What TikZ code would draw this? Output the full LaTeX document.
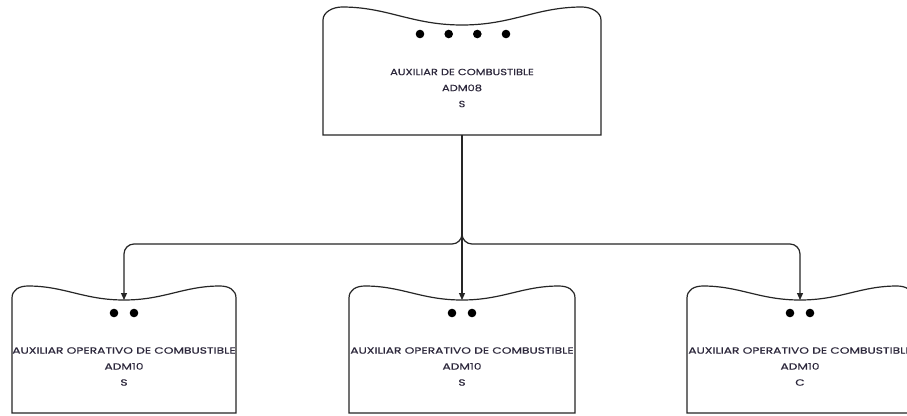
\documentclass[tikz,border=0pt]{standalone}
\usepackage{fontspec}
\newfontfamily\labfont[FakeStretch=1.27,FakeBold=0.5]{Poppins}
\newfontfamily\widelabfont[FakeStretch=1.36,FakeBold=0.5]{Poppins}
\usetikzlibrary{arrows.meta,calc}

\definecolor{labelink}{RGB}{45,40,60}

\tikzset{
  boxline/.style={draw=black!85, line width=1.2pt, fill=white},
  frame/.style={inner sep=0pt, outer sep=0pt},
  boxtext/.style={inner sep=0pt, align=center, text=labelink,
    font=\labfont\fontsize{9}{16}\selectfont},
  subtext/.style={boxtext, font=\widelabfont\fontsize{9}{16}\selectfont},
  conn/.style={draw=black!85, line width=1.2pt, rounded corners=10pt,
    -{Triangle[length=7pt,width=6pt]}},
  dot/.style={fill=black}
}

% #1 name, #2 left, #3 right, #4 top of the peaks, #5 depth of the dip,
% #6 bottom, #7 peak inset, #8 corner drop
\newcommand\wavybox[8]{%
  \draw[boxline] (#2,#6) -- (#2,{#4+#8})
    .. controls (#2,{#4+#8-8}) and ({#2+#7-9},#4) .. ({#2+#7},#4)
    .. controls ({#2+#7+0.38*((#3-#2)/2-#7)},#4) and ({(#2+#3)/2-0.42*((#3-#2)/2-#7)},{#4+#5}) .. ({(#2+#3)/2},{#4+#5})
    .. controls ({(#2+#3)/2+0.42*((#3-#2)/2-#7)},{#4+#5}) and ({#3-#7-0.38*((#3-#2)/2-#7)},#4) .. ({#3-#7},#4)
    .. controls ({#3-#7+9},#4) and (#3,{#4+#8-8}) .. (#3,{#4+#8})
    -- (#3,#6) -- cycle;
  \node[frame, minimum width={(#3-#2)*1pt}, minimum height={(#6-#4-#5)*1pt}]
    (#1) at ({(#2+#3)/2},{(#4+#5+#6)/2}) {};
}

\begin{document}
\begin{tikzpicture}[x=1pt,y=-1pt]
  \clip (0,0) rectangle (907,415);
  \fill[white] (0,0) rectangle (907,415);

  % boxes
  \wavybox{boss}{323}{601}{7}{18}{135}{19}{13}
  \wavybox{leftc}{12}{236}{286}{14}{413}{16}{12}
  \wavybox{midc}{349}{575}{286}{14}{413}{16}{12}
  \wavybox{rightc}{687}{913}{286}{14}{413}{16}{12}

  % position markers
  \foreach \x in {420,448.7,477.3,506} \fill[dot] (\x,34) circle (4.3);
  \foreach \c in {124,462,800} {
    \fill[dot] (\c-10,313) circle (4.3);
    \fill[dot] (\c+10,313) circle (4.3);
  }

  % labels
  \node[boxtext] (bosst) at (462,88) {AUXILIAR DE COMBUSTIBLE\\ADM08\\S};
  \node[subtext] (leftt) at (124,366.5) {AUXILIAR OPERATIVO DE COMBUSTIBLE\\ADM10\\S};
  \node[subtext] (midt) at (462,366.5) {AUXILIAR OPERATIVO DE COMBUSTIBLE\\ADM10\\S};
  \node[subtext] (rightt) at (800,366.5) {AUXILIAR OPERATIVO DE COMBUSTIBLE\\ADM10\\C};

  % connectors
  \coordinate (bus) at (462,244);
  \draw[conn] (boss.south) -- (midc.north);
  \draw[conn] (boss.south) -- (bus) -| (leftc.north);
  \draw[conn] (boss.south) -- (bus) -| (rightc.north);
\end{tikzpicture}
\end{document}
